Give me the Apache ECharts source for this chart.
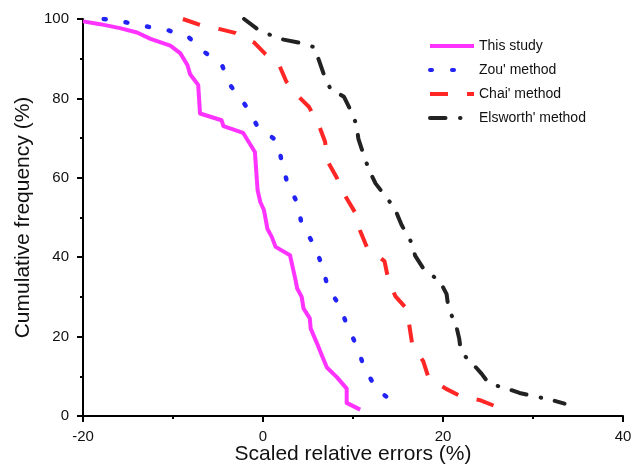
<!DOCTYPE html>
<html>
<head>
<meta charset="utf-8">
<script src="https://cdn.jsdelivr.net/npm/echarts@6/dist/echarts.min.js"></script>
<style>
  html, body { margin: 0; padding: 0; background: #fff; }
  #chart { width: 644px; height: 465px; }
</style>
</head>
<body>
<div id="chart"></div>
<script>
// values
const seriesNames = ['This study', "Zou' method", "Chai' method", "Elsworth' method"];

const studyX = [-20, -18.1, -15.9, -14.0, -12.5, -10.3, -9.2, -8.4, -8.1, -7.2, -7.0, -4.6, -4.4, -2.2, -0.9, -0.6, -0.3, 0.1, 0.5, 1.0, 1.4, 3.0, 3.6, 3.8, 4.3, 4.5, 5.2, 5.3, 6.0, 6.6, 7.1, 8.2, 9.3, 9.3, 10.8];
const studyY = [99.4, 98.7, 97.7, 96.6, 95.0, 93.3, 91.4, 88.4, 86.1, 83.4, 76.2, 74.5, 73.0, 71.3, 66.5, 56.9, 53.9, 51.9, 47.1, 45.0, 42.6, 40.5, 34.4, 32.1, 30.0, 27.1, 24.6, 22.0, 18.3, 14.9, 12.2, 9.8, 6.9, 3.3, 1.6];

const zouX = [-17.7, -15.3, -12.9, -10.6, -8.3, -6.4, -4.6, -3.6, -1.9, -0.6, 1.6, 2.1, 2.7, 3.8, 4.3, 5.7, 6.6, 7.2, 8.5, 9.4, 10.5, 11.3, 12.7, 15.1];
const zouY = [100, 99.2, 98.1, 97.2, 95.5, 91.5, 88.6, 83.2, 78.1, 72.9, 69.2, 63.9, 58.7, 53.7, 48.3, 43.0, 37.7, 32.4, 27.8, 22.5, 17.2, 11.8, 6.6, 2.5];

const chaiX = [-8.9, -7.0, -4.9, -3.1, -1.0, 0.3, 1.8, 2.6, 3.8, 5.1, 6.2, 6.9, 7.1, 8.2, 9.1, 10.3, 10.8, 11.6, 13.5, 13.9, 14.7, 16.0, 16.3, 16.6, 17.8, 18.4, 20.3, 22.1, 24.1, 26.0];
const chaiY = [100, 98.5, 97.5, 96.5, 94.1, 91.1, 88.4, 84.2, 80.8, 77.9, 73.3, 69.1, 64.5, 60.0, 55.6, 51.0, 46.6, 42.2, 39.0, 34.6, 30.2, 26.9, 22.2, 17.8, 13.8, 9.6, 6.9, 4.8, 4.0, 2.3];

const elsX = [-2.1, -0.4, 0.8, 2.3, 4.3, 5.7, 6.2, 6.9, 7.5, 9.0, 9.9, 10.4, 10.6, 11.3, 11.8, 12.5, 14.1, 14.8, 15.4, 16.6, 16.9, 17.8, 19.7, 20.4, 20.6, 21.5, 21.8, 22.0, 23.6, 24.3, 25.1, 27.1, 28.5, 30.1, 32.1, 33.5];
const elsY = [100, 97.1, 96.0, 94.8, 93.9, 92.9, 89.7, 85.1, 82.4, 80.4, 76.2, 73.3, 69.8, 65.0, 61.9, 58.6, 53.9, 51.4, 48.1, 43.3, 40.4, 37.2, 33.8, 30.7, 27.3, 22.4, 19.5, 16.1, 12.4, 10.6, 8.2, 6.9, 5.8, 5.0, 4.0, 3.1];

const xTicks = [-20, 0, 20, 40];
const yTicks = [0, 20, 40, 60, 80, 100];

function pairs(xs, ys) {
    return xs.map(function (x, i) { return [x, ys[i]]; });
}

const chart = echarts.init(document.getElementById('chart'), null, { renderer: 'canvas' });

const font = 'Liberation Sans, Arial, sans-serif';

const option = {
    backgroundColor: '#ffffff',
    animation: false,
    textStyle: { fontFamily: font },
    grid: {
        left: 83,
        right: 21,
        top: 19,
        bottom: 49,
        containLabel: false,
        outerBoundsMode: 'none'
    },
    legend: {
        left: 423,
        top: 34,
        orient: 'vertical',
        itemWidth: 44,
        itemHeight: 14,
        itemGap: 10,
        data: seriesNames,
        itemStyle: { opacity: 0 },
        lineStyle: { width: 4 },
        textStyle: { fontSize: 14, color: '#111', fontFamily: font }
    },
    xAxis: {
        type: 'value',
        min: xTicks[0],
        max: xTicks[xTicks.length - 1],
        interval: 20,
        name: 'Scaled relative errors (%)',
        nameLocation: 'middle',
        nameGap: 28,
        nameMoveOverlap: false,
        nameTextStyle: { fontSize: 21, color: '#111', fontFamily: font },
        axisLine: { onZero: false, lineStyle: { color: '#000', width: 2 } },
        axisTick: { inside: false, length: 6, lineStyle: { width: 2 } },
        minorTick: { show: true, splitNumber: 2, length: 3, lineStyle: { color: '#000', width: 2 } },
        axisLabel: { fontSize: 15, color: '#111', margin: 13 },
        splitLine: { show: false }
    },
    yAxis: {
        type: 'value',
        min: yTicks[0],
        max: yTicks[yTicks.length - 1],
        interval: 20,
        name: 'Cumulative frequency (%)',
        nameLocation: 'middle',
        nameGap: 49,
        nameMoveOverlap: false,
        nameTextStyle: { fontSize: 21, color: '#111', fontFamily: font },
        axisLine: { show: true, onZero: false, lineStyle: { color: '#000', width: 2 } },
        axisTick: { show: true, inside: false, length: 6, lineStyle: { width: 2 } },
        minorTick: { show: true, splitNumber: 2, length: 3, lineStyle: { color: '#000', width: 2 } },
        axisLabel: { fontSize: 15, color: '#111', margin: 14 },
        splitLine: { show: false }
    },
    series: [
        {
            name: seriesNames[0],
            type: 'line',
            symbol: 'none',
            data: pairs(studyX, studyY),
            lineStyle: { color: '#ff33ff', width: 4, join: 'round' },
            itemStyle: { color: '#ff33ff' },
            z: 5
        },
        {
            name: seriesNames[1],
            type: 'line',
            symbol: 'none',
            data: pairs(zouX, zouY),
            lineStyle: { color: '#2323f5', width: 4.5, type: [2, 20], cap: 'round' },
            itemStyle: { color: '#2323f5' }
        },
        {
            name: seriesNames[2],
            type: 'line',
            symbol: 'none',
            data: pairs(chaiX, chaiY),
            lineStyle: { color: '#ff2626', width: 4, type: [18, 19], cap: 'butt' },
            itemStyle: { color: '#ff2626' }
        },
        {
            name: seriesNames[3],
            type: 'line',
            symbol: 'none',
            data: pairs(elsX, elsY),
            lineStyle: { color: '#222222', width: 4, type: [15.5, 14.5, 0.5, 14], cap: 'round' },
            itemStyle: { color: '#222222' }
        }
    ]
};

try {
    chart.setOption(option);
} catch (error) {
    console.error('Error setting chart option:', error);
}
</script>
</body>
</html>
